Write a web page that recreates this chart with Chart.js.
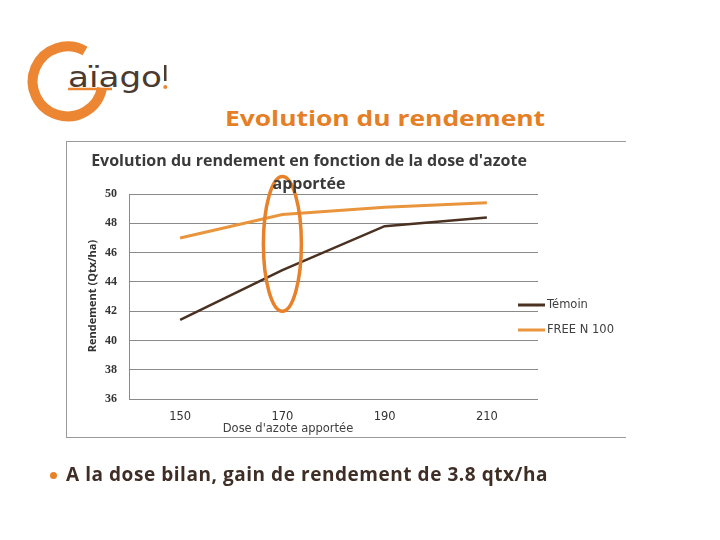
<!DOCTYPE html>
<html>
<head>
<meta charset="utf-8">
<script src="https://cdn.jsdelivr.net/npm/chart.js"></script>
<style>
  body { margin: 0; background: #fff; width: 720px; height: 540px; position: relative; overflow: hidden; font-family: "Open Sans", sans-serif; }
  .abs { position: absolute; }
  #title { left: 185px; width: 400px; top: 102px; text-align: center; color: #e57f26; font: bold 22px "Open Sans", sans-serif; transform: scaleX(1.2); transform-origin: 200px 50%; }
  #box { left: 66px; top: 141px; width: 559px; height: 295px; border-top: 1px solid #9a9a9a; border-left: 1px solid #9a9a9a; border-bottom: 1px solid #9a9a9a; }
  #chartWrap { left: 66px; top: 141px; width: 559px; height: 296px; }
  #chartTitle { left: 69px; width: 480px; top: 149px; text-align: center; color: #3a3a3a; font: bold 16px "Open Sans", sans-serif; line-height: 23px; }
  #yTitle { left: 91px; top: 296px; transform: translate(-50%, -50%) rotate(-90deg); white-space: nowrap; color: #333; font: bold 11px "Open Sans", sans-serif; }
  #xTitle { left: 288px; top: 428px; transform: translate(-50%, -50%); white-space: nowrap; color: #404040; font: 11.5px "DejaVu Sans", sans-serif; }
  #bullet { left: 50px; top: 472px; width: 7px; height: 7px; border-radius: 50%; background: #e8822a; }
  #note { left: 66px; top: 461px; color: #3f2e25; font: bold 19px "Open Sans", sans-serif; letter-spacing: 0.55px; white-space: nowrap; }
</style>
</head>
<body>
<svg class="abs" style="left:0;top:0" width="720" height="140">
  <!-- logo Gaïago! -->
  <path d="M 85 51 A 35 35 0 1 0 102 88" fill="none" stroke="#ec8633" stroke-width="10"/>
  <line x1="68" y1="89" x2="112" y2="89" stroke="#ec8633" stroke-width="2.5"/>
  <text x="68" y="87" textLength="94" lengthAdjust="spacingAndGlyphs" font-family="DejaVu Sans" font-size="29" fill="#4a3a30">aïago</text>
  <rect x="164" y="65" width="2.5" height="16" fill="#4a3a30"/>
  <circle cx="165.3" cy="87" r="2" fill="#ec8633"/>
</svg>

<div id="title" class="abs">Evolution du rendement</div>
<div id="box" class="abs"></div>
<div id="chartWrap" class="abs"><canvas id="rendementChart"></canvas></div>
<div id="chartTitle" class="abs">Evolution du rendement en fonction de la dose d'azote<br>apportée</div>
<div id="yTitle" class="abs">Rendement (Qtx/ha)</div>
<div id="xTitle" class="abs">Dose d'azote apportée</div>
<div id="bullet" class="abs"></div>
<div id="note" class="abs">A la dose bilan, gain de rendement de 3.8 qtx/ha</div>

<script>
// Données
const doses = ["150", "170", "190", "210"];
const temoin = [41.4, 44.8, 47.8, 48.4];
const freeN100 = [47.0, 48.6, 49.1, 49.4];
const yTicks = [36, 38, 40, 42, 44, 46, 48, 50];

// Ellipse autour de la dose bilan (170)
const ellipsePlugin = {
    id: "ellipse",
    afterDatasetsDraw(chart) {
        const { ctx, scales } = chart;
        const cx = scales.x.getPixelForValue(1);
        const top = scales.y.getPixelForValue(51.2);
        const bottom = scales.y.getPixelForValue(42);
        ctx.save();
        ctx.strokeStyle = "#e8822a";
        ctx.lineWidth = 3.5;
        ctx.beginPath();
        ctx.ellipse(cx, (top + bottom) / 2, 19, (bottom - top) / 2, 0, 0, Math.PI * 2);
        ctx.stroke();
        ctx.restore();
    }
};

// Légende dessinée à droite, un peu sur la zone du graphique
const legendPlugin = {
    id: "sideLegend",
    afterDraw(chart) {
        const { ctx, chartArea } = chart;
        const x0 = chartArea.right - 20;
        const yMid = (chartArea.top + chartArea.bottom) / 2;
        ctx.save();
        ctx.font = "11.5px 'DejaVu Sans', sans-serif";
        ctx.textBaseline = "middle";
        chart.data.datasets.forEach((ds, i) => {
            const y = yMid + 8.5 + i * 25;
            ctx.strokeStyle = ds.borderColor;
            ctx.lineWidth = 3;
            ctx.beginPath();
            ctx.moveTo(x0, y);
            ctx.lineTo(x0 + 27, y);
            ctx.stroke();
            ctx.fillStyle = "#404040";
            ctx.fillText(ds.label, x0 + 29, y);
        });
        ctx.restore();
    }
};

const ctx = document.getElementById("rendementChart").getContext("2d");
const rendementChart = new Chart(ctx, {
    type: "line",
    data: {
        labels: doses,
        datasets: [
            {
                label: "Témoin",
                data: temoin,
                borderColor: "#4b3122",
                borderWidth: 2.5,
                pointRadius: 0,
                tension: 0,
            },
            {
                label: "FREE N 100",
                data: freeN100,
                borderColor: "#e9953d",
                borderWidth: 3,
                pointRadius: 0,
                tension: 0,
            },
        ],
    },
    options: {
        responsive: true,
        maintainAspectRatio: false,
        animation: false,
        layout: { padding: { top: 53, right: 87, bottom: 0, left: 0 } },
        plugins: {
            legend: { display: false },
            title: { display: false },
            tooltip: { enabled: false },
        },
        scales: {
            x: {
                offset: true,
                grid: { display: false, drawTicks: false },
                border: { display: false },
                ticks: {
                    padding: 11,
                    color: "#333",
                    font: { family: "DejaVu Sans", size: 11.5 },
                },
                afterFit(scale) { scale.height = 38; },
            },
            y: {
                min: 36,
                max: 50,
                afterBuildTicks(scale) { scale.ticks = yTicks.map((v) => ({ value: v })); },
                grid: { color: "#8a8a8a", lineWidth: 1, drawTicks: false },
                border: { display: true, color: "#8a8a8a", width: 1 },
                ticks: {
                    padding: 12,
                    color: "#333",
                    font: { family: "Liberation Serif", size: 12, weight: "bold" },
                },
                afterFit(scale) { scale.width = 63; },
            },
        },
    },
    plugins: [ellipsePlugin, legendPlugin],
});
</script>
</body>
</html>
